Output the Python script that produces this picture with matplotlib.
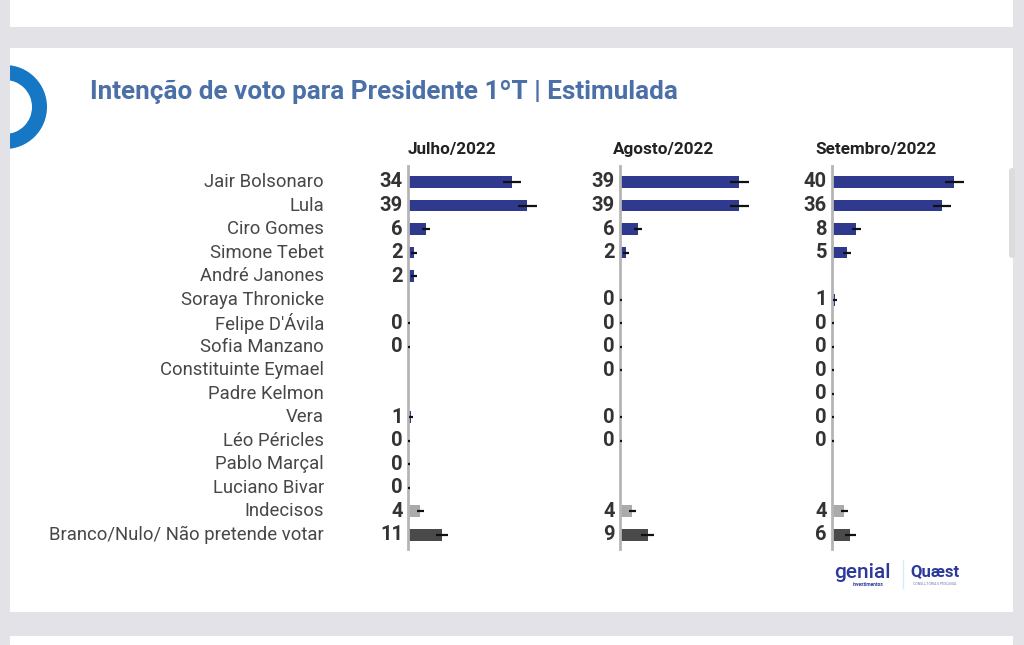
import matplotlib
matplotlib.use("Agg")
import matplotlib.pyplot as plt
import numpy as np
from matplotlib.patches import Rectangle, Wedge, FancyBboxPatch
from matplotlib.transforms import blended_transform_factory

plt.rcParams['font.family'] = ['Roboto', 'DejaVu Sans']

# data (None = candidate not in that poll)
names = ["Jair Bolsonaro", "Lula", "Ciro Gomes", "Simone Tebet", "André Janones",
         "Soraya Thronicke", "Felipe D'Ávila", "Sofia Manzano", "Constituinte Eymael",
         "Padre Kelmon", "Vera", "Léo Péricles", "Pablo Marçal", "Luciano Bivar",
         "Indecisos", "Branco/Nulo/ Não pretende votar"]
months = ["Julho/2022", "Agosto/2022", "Setembro/2022"]
julho = [34, 39, 6, 2, 2, None, 0, 0, None, None, 1, 0, 0, 0, 4, 11]
agosto = [39, 39, 6, 2, None, 0, 0, 0, 0, None, 0, 0, None, None, 4, 9]
setembro = [40, 36, 8, 5, None, 1, 0, 0, 0, 0, 0, 0, None, None, 4, 6]
# margin of error drawn around each value
err_julho = [3, 3, 1.3, 1, 1, None, 0.5, 0.5, None, None, 0.6, 0.5, 0.5, 0.5, 1.2, 2]
err_agosto = [3, 3, 1.3, 1, None, 0.5, 0.5, 0.5, 0.5, None, 0.5, 0.5, None, None, 1.2, 2]
err_setembro = [3, 3, 1.6, 1.3, None, 0.6, 0.5, 0.5, 0.5, 0.5, 0.5, 0.5, None, None, 1.2, 1.8]

series = [julho, agosto, setembro]
errors = [err_julho, err_agosto, err_setembro]

W, H = 1024, 645
fig = plt.figure(figsize=(W / 100, H / 100), dpi=100)
fig.patch.set_facecolor("#e3e3e7")

# background in pixel coordinates
bg = fig.add_axes([0, 0, 1, 1], zorder=-5)
bg.set_xlim(0, W)
bg.set_ylim(H, 0)
bg.axis("off")
bg.add_patch(Rectangle((10, -5), 1003, 32, facecolor="white", edgecolor="none"))
card = Rectangle((10, 48), 1003, 564, facecolor="white", edgecolor="none")
bg.add_patch(card)
bg.add_patch(Rectangle((10, 636), 1003, 20, facecolor="white", edgecolor="none"))
ring = Wedge((5, 107), 42, 0, 360, width=15, facecolor="#1677c4", edgecolor="none")
bg.add_patch(ring)
ring.set_clip_path(card)
bg.add_patch(FancyBboxPatch((1009, 168), 6, 90, boxstyle="round,pad=0,rounding_size=3",
                            facecolor="#dcdcdc", edgecolor="none"))
bg.text(90, 92, "Intenção de voto para Presidente 1ºT | Estimulada", fontsize=18.8,
        fontweight="bold", color="#4b6fa7", va="center", ha="left")

# logos
bg.text(862, 573, "genial", fontsize=15, color="#2b3a9a", ha="center", va="center",
        fontweight="medium")
bg.text(868, 585, "investimentos", fontsize=3.5, color="#2b3a9a", ha="center", va="center",
        fontweight="bold")
bg.plot([903, 903], [560, 588], color="#d6ecf5", lw=1)
bg.text(935, 572, "Quæst", fontsize=12, color="#2b3a9a", ha="center", va="center",
        fontweight="bold")
bg.text(935, 584, "CONSULTORIA E PESQUISA", fontsize=2.5, color="#6a78b8", ha="center",
        va="center")

bar_colors = ["#2f3a8e"] * 14 + ["#aaaaaa", "#4a4a4a"]
axis_x = [408, 620, 832]
px_per_unit = 3.06
ax_w = 170
top, bottom = 166, 549
y = np.arange(len(names))

axes = []
for k in range(3):
    ax = fig.add_axes([axis_x[k] / W, 1 - bottom / H, ax_w / W, (bottom - top) / H])
    ax.set_xlim(0, ax_w / px_per_unit)
    ax.set_ylim(15.6, -0.68)
    ax.patch.set_alpha(0)
    for s in ["top", "right", "bottom"]:
        ax.spines[s].set_visible(False)
    ax.spines["left"].set_color("#b5b5b5")
    ax.spines["left"].set_linewidth(2)
    ax.set_xticks([])
    ax.set_yticks([])
    vals = series[k]
    errs = errors[k]
    for i in range(len(names)):
        v = vals[i]
        if v is None:
            continue
        ax.barh(y[i], v, height=0.5, color=bar_colors[i], zorder=2)
        ax.errorbar(v, y[i], xerr=errs[i], fmt="none", ecolor="#111111", elinewidth=1.6,
                    capsize=0, zorder=3)
        ax.annotate(str(v), (0, y[i]), xytext=(-5, 0), textcoords="offset pixels",
                    ha="right", va="center", fontsize=14.5, fontweight="bold", color="#333333")
    ax.text(44 / px_per_unit, -1.38, months[k], ha="center", va="center", fontsize=12.3,
            fontweight="bold", color="#222222", clip_on=False)
    axes.append(ax)

tr = blended_transform_factory(fig.transFigure, axes[0].transData)
for i, n in enumerate(names):
    axes[0].text(324 / W, y[i], n, transform=tr, ha="right", va="center", fontsize=13.3,
                 color="#474747")

fig.savefig("out.png", dpi=100, facecolor=fig.get_facecolor())
